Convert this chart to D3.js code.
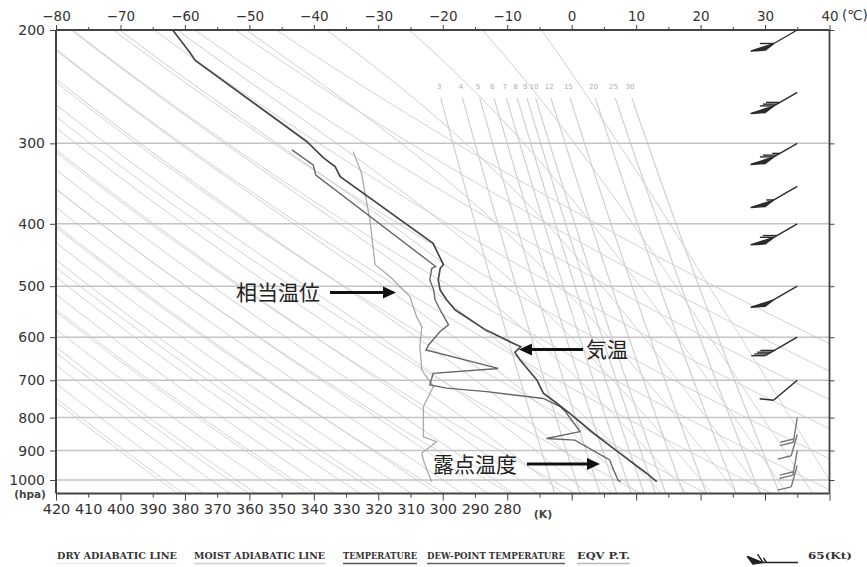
<!DOCTYPE html>
<html>
<head>
<meta charset="utf-8">
<script src="https://cdnjs.cloudflare.com/ajax/libs/d3/7.8.5/d3.min.js"></script>
<style>
  body { margin: 0; background: #fff; }
  svg { display: block; }
</style>
</head>
<body>
<div id="chart"></div>
<script>
// Sounding values (pressure hPa, temperature degC)
const tempP = [200, 217, 223, 298, 316, 326, 338, 429, 463, 469, 489, 507, 525, 544, 585, 613, 621, 633, 651, 699, 733, 760, 788, 846, 909, 976, 1006];
const tempT = [-61.9, -59.2, -58.4, -41.1, -38.5, -36.7, -35.9, -21.5, -19.9, -20.4, -20.7, -20.4, -19.4, -18.1, -13.3, -9.1, -7.9, -8.8, -8.0, -5.4, -4.4, -2.3, -0.3, 3.4, 7.5, 11.6, 13.2];

const dewP = [307, 324, 336, 466, 469, 489, 507, 525, 544, 574, 588, 617, 628, 671, 683, 712, 720, 729, 747, 769, 785, 841, 862, 867, 931, 965, 1000, 1006];
const dewT = [-43.4, -40.1, -39.7, -21.1, -21.7, -22.0, -21.4, -21.2, -20.4, -19.1, -20.4, -22.2, -22.6, -11.4, -21.5, -22.0, -19.4, -13.2, -4.4, -1.8, -0.9, 1.3, -3.9, 0.5, 5.9, 6.5, 7.2, 7.6];

// Equivalent potential temperature (K), drawn on the lower K scale
const eptP = [309, 334, 395, 463, 483, 519, 558, 578, 621, 675, 716, 769, 857, 872, 909, 931, 966, 1006];
const eptK = [327.8, 325.2, 322.6, 321.0, 316.4, 310.2, 308.1, 306.5, 307.1, 306.5, 302.9, 306.0, 306.0, 301.9, 306.5, 306.0, 304.9, 303.4];

// Wind barbs: level, direction (deg), speed (kt)
const windP = [200, 250, 300, 350, 400, 500, 600, 700, 800, 850, 900, 950];
const windDir = [240, 240, 240, 240, 240, 240, 240, 230, 189, 196, 190, 196];
const windKt = [60, 80, 75, 55, 70, 50, 40, 10, 20, 10, 20, 10];

// Axis ticks
const pressureTicks = [200, 300, 400, 500, 600, 700, 800, 900, 1000];
const tempTicks = [-80, -70, -60, -50, -40, -30, -20, -10, 0, 10, 20, 30, 40];
const tempMinorTicks = [-75, -65, -55, -45, -35, -25, -15, -5, 5, 15, 25, 35];
const kelvinTicks = [420, 410, 400, 390, 380, 370, 360, 350, 340, 330, 320, 310, 300, 290, 280];

// Reference lines of the diagram
const dryTheta = [210, 220, 230, 240, 250, 260, 270, 280, 290, 300, 310, 320, 330, 340, 350, 360];
const moistThetaW = [-64, -60, -56, -52, -48, -44, -40, -36, -32, -28, -24, -20, -16, -12, -8, -4, 0, 4, 8, 12, 16, 20, 24, 28, 32, 36, 40];
const mixRatios = [3, 4, 5, 6, 7, 8, 9, 10, 12, 15, 20, 25, 30];

const legendItems = [
  { label: "DRY ADIABATIC LINE", x: 57, w: 120, color: "#ececec" },
  { label: "MOIST ADIABATIC LINE", x: 194, w: 131, color: "#cfcfcf" },
  { label: "TEMPERATURE", x: 343, w: 74, color: "#555" },
  { label: "DEW-POINT TEMPERATURE", x: 427, w: 138, color: "#666" },
  { label: "EQV P.T.", x: 577, w: 53, color: "#bbb" }
];

const width = 867, height = 567;
const plotLeft = 56, plotRight = 829.5, plotTop = 30, plotBottom = 493.6;

const svg = d3.select("#chart").append("svg")
  .attr("width", width).attr("height", height)
  .style("font-family", "DejaVu Sans, sans-serif");

const x = d3.scaleLinear().domain([-80, 40]).range([plotLeft, plotRight]);
const y = d3.scaleLog().domain([200, 1000]).range([plotTop, 480]);
const xk = d3.scaleLinear().domain([420, 180]).range([plotLeft, plotRight]);

svg.append("defs").append("clipPath").attr("id", "plot")
  .append("rect").attr("x", plotLeft).attr("y", plotTop)
  .attr("width", plotRight - plotLeft).attr("height", plotBottom - plotTop);

const plot = svg.append("g").attr("clip-path", "url(#plot)");

// pressures to sample curves on
const pSteps = [];
for (let p = 190; p <= 1060; p += 5) pSteps.push(p);

const line = d3.line().x(d => x(d[1])).y(d => y(d[0]));

// dry adiabats
plot.append("g").selectAll("path").data(dryTheta).join("path")
  .attr("d", th => line(pSteps.map(p => [p, th * Math.pow(p / 1000, 0.2857) - 273.15])))
  .attr("fill", "none").attr("stroke", "#d2d2d2").attr("stroke-width", 1);

// moist (pseudo) adiabats, integrated from 1000 hPa
function lapse(p, tK) {
  const Rd = 287.04, Cp = 1005.7, Lv = 2.501e6, eps = 0.622;
  const es = 6.112 * Math.exp(17.67 * (tK - 273.15) / (tK - 29.65));
  const rs = eps * es / (p - es);
  return (Rd * tK + Lv * rs) / (p * (Cp + Lv * Lv * rs * eps / (Rd * tK * tK)));
}
function moistCurve(tw) {
  const pts = [];
  let t = tw + 273.15;
  for (let p = 1000; p >= 190; p -= 2) {
    pts.push([p, t - 273.15]);
    const k1 = lapse(p, t), k2 = lapse(p - 1, t - k1);
    t -= (k1 + k2);
  }
  t = tw + 273.15;
  const low = [];
  for (let p = 1000; p <= 1060; p += 2) {
    low.push([p, t - 273.15]);
    t += lapse(p, t) * 2;
  }
  return low.reverse().concat(pts);
}
plot.append("g").selectAll("path").data(moistThetaW).join("path")
  .attr("d", tw => line(moistCurve(tw)))
  .attr("fill", "none").attr("stroke", "#cdcdcd").attr("stroke-width", 1);

// saturation mixing ratio lines
function mixT(w, p) {
  const e = w * p / (622 + w);
  const a = Math.log(e / 6.112);
  return 243.5 * a / (17.67 - a);
}
const mixG = plot.append("g");
mixG.selectAll("path").data(mixRatios).join("path")
  .attr("d", w => line(pSteps.filter(p => p >= 255).map(p => [p, mixT(w, p)])))
  .attr("fill", "none").attr("stroke", "#d0d0d0").attr("stroke-width", 1.2);
mixG.selectAll("text").data(mixRatios).join("text")
  .attr("x", w => x(mixT(w, 250)))
  .attr("y", y(250) - 3)
  .attr("text-anchor", "middle")
  .style("font-size", "7px").style("fill", "#aaa")
  .text(w => w);

// isobars
plot.append("g").selectAll("line").data(pressureTicks.slice(1)).join("line")
  .attr("x1", plotLeft).attr("x2", plotRight)
  .attr("y1", d => y(d)).attr("y2", d => y(d))
  .attr("stroke", "#c4c4c4").attr("stroke-width", 1.5);

// profiles
const prof = d3.line().x(d => x(d[1])).y(d => y(d[0]));
plot.append("path").datum(eptP.map((p, i) => [p, eptK[i]]))
  .attr("d", d3.line().x(d => xk(d[1])).y(d => y(d[0])))
  .attr("fill", "none").attr("stroke", "#a8a8a8").attr("stroke-width", 1.3);
plot.append("path").datum(dewP.map((p, i) => [p, dewT[i]]))
  .attr("d", prof).attr("fill", "none").attr("stroke", "#666").attr("stroke-width", 1.4);
plot.append("path").datum(tempP.map((p, i) => [p, tempT[i]]))
  .attr("d", prof).attr("fill", "none").attr("stroke", "#474747").attr("stroke-width", 1.7);

// wind barbs (feathers drawn nearly horizontal, as on the chart)
function drawBarb(g, sx, sy, dir, kt, color, len, feather, fl) {
  const r = dir * Math.PI / 180;
  const ux = Math.sin(r), uy = -Math.cos(r);
  const [fx, fy] = feather;
  const at = s => [sx + ux * (len - s), sy + uy * (len - s)];
  const end = at(0);
  g.append("line").attr("x1", sx).attr("y1", sy).attr("x2", end[0]).attr("y2", end[1])
    .attr("stroke", color).attr("stroke-width", 1.4);
  let rest = Math.round(kt / 5) * 5, pos = 0;
  while (rest >= 50) {
    const a = at(pos), b = at(pos + 9);
    g.append("polygon")
      .attr("points", `${a[0]},${a[1] + 1.5} ${a[0] + fx * fl},${a[1] + fy * fl + 2.5} ${b[0]},${b[1]}`)
      .attr("fill", color).attr("stroke", color).attr("stroke-width", 1.6).attr("stroke-linejoin", "round");
    pos += 10; rest -= 50;
  }
  while (rest >= 10) {
    const a = at(pos);
    g.append("line").attr("x1", a[0]).attr("y1", a[1])
      .attr("x2", a[0] + fx * fl).attr("y2", a[1] + fy * fl)
      .attr("stroke", color).attr("stroke-width", 1.4);
    pos += 3.5; rest -= 10;
  }
  if (rest >= 5) {
    if (pos === 0) pos = 3.5;
    const a = at(pos);
    g.append("line").attr("x1", a[0]).attr("y1", a[1])
      .attr("x2", a[0] + fx * fl * 0.55).attr("y2", a[1] + fy * fl * 0.55)
      .attr("stroke", color).attr("stroke-width", 1.4);
  }
}
const barbs = svg.append("g");
windP.forEach((p, i) => {
  const low = p >= 800;
  const len = low ? (p % 100 === 0 ? 25 : 22) : (p === 700 ? 31 : 37);
  const feather = low ? [-0.97, 0.24] : (p === 700 ? [-0.99, -0.1] : [-1, 0]);
  drawBarb(barbs, x(35), y(p), windDir[i], windKt[i], low ? "#777" : "#2b2b2b", len, feather, 14);
});

// frame
svg.append("g").attr("fill", "none").attr("stroke", "#444")
  .call(g => g.append("line").attr("x1", plotLeft).attr("x2", plotRight).attr("y1", plotTop).attr("y2", plotTop).attr("stroke-width", 2))
  .call(g => g.append("line").attr("x1", plotLeft).attr("x2", plotLeft).attr("y1", plotTop).attr("y2", plotBottom).attr("stroke-width", 2))
  .call(g => g.append("line").attr("x1", plotRight).attr("x2", plotRight).attr("y1", plotTop).attr("y2", plotBottom).attr("stroke-width", 1.8))
  .call(g => g.append("line").attr("x1", plotLeft).attr("x2", plotRight).attr("y1", plotBottom).attr("y2", plotBottom).attr("stroke-width", 2));

// axes
function styleAxis(g, size) {
  g.select(".domain").remove();
  g.selectAll(".tick line").attr("stroke", "#444");
  g.selectAll(".tick text").style("font-size", size).attr("fill", "#333")
    .style("font-family", "DejaVu Sans, sans-serif");
}
svg.append("g").attr("transform", `translate(0,${plotTop})`)
  .call(d3.axisTop(x).tickValues(tempTicks).tickSize(5).tickPadding(4))
  .call(g => styleAxis(g, "13.5px"));
svg.append("g").attr("transform", `translate(0,${plotTop})`)
  .call(d3.axisTop(x).tickValues(tempMinorTicks).tickSize(3).tickFormat(""))
  .call(g => styleAxis(g, "0px"));
svg.append("text").attr("x", 842).attr("y", 20).style("font-size", "13.5px").attr("fill", "#333").text("(℃)");

svg.append("g").attr("transform", `translate(${plotLeft},0)`)
  .call(d3.axisLeft(y).tickValues(pressureTicks).tickFormat(d3.format("d")).tickSize(6).tickPadding(5))
  .call(g => styleAxis(g, "14px"));
svg.append("g").attr("transform", `translate(${plotRight},0)`)
  .call(d3.axisRight(y).tickValues(pressureTicks).tickFormat("").tickSize(5))
  .call(g => styleAxis(g, "0px"));
svg.append("text").attr("x", 30).attr("y", 498).attr("text-anchor", "middle")
  .style("font-size", "10.5px").style("font-weight", "bold").attr("fill", "#444").text("(hpa)");

svg.append("g").attr("transform", `translate(0,${plotBottom})`)
  .call(d3.axisBottom(x).tickValues(tempTicks).tickSize(7).tickFormat(""))
  .call(g => styleAxis(g, "0px"));
svg.append("g").attr("transform", `translate(0,${plotBottom})`)
  .call(d3.axisBottom(x).tickValues(tempMinorTicks).tickSize(4).tickFormat(""))
  .call(g => styleAxis(g, "0px"));
svg.append("g").attr("transform", `translate(0,${plotBottom})`)
  .call(d3.axisBottom(xk).tickValues(kelvinTicks).tickSize(0).tickPadding(10))
  .call(g => styleAxis(g, "14.5px"));
svg.append("text").attr("x", 543).attr("y", 518).attr("text-anchor", "middle")
  .style("font-size", "11px").style("font-weight", "bold").attr("fill", "#444").text("(K)");

// annotations with arrows
function arrow(x1, x2, yy) {
  const dir = Math.sign(x2 - x1);
  svg.append("line").attr("x1", x1).attr("x2", x2 - dir * 10).attr("y1", yy).attr("y2", yy)
    .attr("stroke", "#111").attr("stroke-width", 3.2);
  svg.append("polygon")
    .attr("points", `${x2},${yy} ${x2 - dir * 13},${yy - 6} ${x2 - dir * 13},${yy + 6}`)
    .attr("fill", "#111");
}
const jp = "Noto Sans CJK JP, sans-serif";
svg.append("text").attr("x", 236).attr("y", 300).style("font-family", jp).style("font-size", "21px").attr("fill", "#222").text("相当温位");
arrow(330, 396, 292.5);
svg.append("text").attr("x", 586).attr("y", 357).style("font-family", jp).style("font-size", "21px").attr("fill", "#222").text("気温");
arrow(583, 519, 349.5);
svg.append("text").attr("x", 433).attr("y", 472).style("font-family", jp).style("font-size", "21px").attr("fill", "#222").text("露点温度");
arrow(527, 600, 464);

// legend along the bottom
const leg = svg.append("g").style("font-family", "DejaVu Serif, serif").style("font-size", "9px")
  .style("font-weight", "bold");
legendItems.forEach(d => {
  leg.append("text").attr("x", d.x).attr("y", 559).attr("fill", "#333")
    .attr("textLength", d.w).attr("lengthAdjust", "spacingAndGlyphs").text(d.label);
  leg.append("line").attr("x1", d.x).attr("x2", d.x + d.w).attr("y1", 563.5).attr("y2", 563.5)
    .attr("stroke", d.color).attr("stroke-width", 1.5);
});
drawBarb(svg.append("g"), 798, 562.5, 270, 65, "#222", 45, [-0.55, -0.84], 10);
leg.append("text").attr("x", 808).attr("y", 559).attr("fill", "#333")
  .attr("textLength", 44).attr("lengthAdjust", "spacingAndGlyphs").text("65(Kt)");
</script>
</body>
</html>
